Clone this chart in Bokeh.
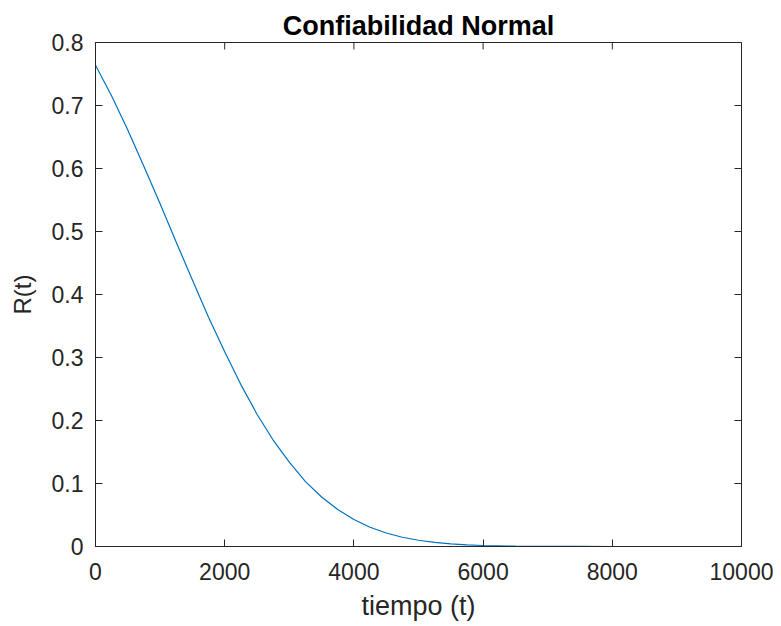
import math
from bokeh.plotting import figure
from bokeh.models import FixedTicker, CustomJSTickFormatter, Range1d
from bokeh.embed import file_html
from bokeh.resources import INLINE

# Data
t_vals = [0, 250, 500, 750, 1000, 1250, 1500, 1750, 2000, 2250, 2500, 2750,
          3000, 3250, 3500, 3750, 4000, 4250, 4500, 4750, 5000, 5250, 5500,
          5750, 6000, 6500, 7000, 7500, 8000, 8500, 9000, 9700]
r_vals = [0.764, 0.715, 0.661, 0.603, 0.544, 0.483, 0.423, 0.364, 0.309,
          0.257, 0.210, 0.169, 0.134, 0.103, 0.0786, 0.0586, 0.0428, 0.0306,
          0.0215, 0.0147, 0.0099, 0.0065, 0.0042, 0.0027, 0.0016, 0.0006,
          0.0002, 0.0001, 0.00002, 0.0, 0.0, 0.0]
x_ticks = [0, 2000, 4000, 6000, 8000, 10000]
y_ticks = [0, 0.1, 0.2, 0.3, 0.4, 0.5, 0.6, 0.7, 0.8]
x_lim = [0, 10000]
y_lim = [0, 0.8]

title_text = "Confiabilidad Normal"
x_label = "tiempo (t)"
y_label = "R(t)"

TXT = "#262626"
FONT = "Liberation Sans"

p = figure(width=773, height=624, output_backend="svg", toolbar_location=None,
           x_range=Range1d(*x_lim), y_range=Range1d(*y_lim),
           min_border_left=95, min_border_right=32, min_border_top=42,
           min_border_bottom=78)

p.title.text = title_text
p.title.align = "center"
p.title.text_font = FONT
p.title.text_font_size = "27px"
p.title.text_font_style = "bold"
p.title.text_color = "#000000"
p.title.standoff = 4

p.xgrid.visible = False
p.ygrid.visible = False
p.outline_line_color = TXT
p.outline_line_width = 1
p.background_fill_color = "white"
p.border_fill_color = "white"

p.line(t_vals, r_vals, line_color="#0072BD", line_width=1.2)

# inward ticks on the top and right edges of the box
p.ray(x=x_ticks, y=[y_lim[1]] * len(x_ticks), length=7, length_units="screen",
      angle=-math.pi / 2, line_color=TXT, line_width=1)
p.ray(x=[x_lim[1]] * len(y_ticks), y=y_ticks, length=7, length_units="screen",
      angle=math.pi, line_color=TXT, line_width=1)

yfmt = CustomJSTickFormatter(code="return String(Math.round(tick*10)/10);")

def style(ax):
    ax.major_tick_in = 7
    ax.major_tick_out = 0
    ax.minor_tick_in = 0
    ax.minor_tick_out = 0
    ax.axis_line_color = TXT
    ax.major_tick_line_color = TXT
    ax.major_label_text_font = FONT
    ax.major_label_text_color = TXT
    ax.major_label_text_font_size = "23px"
    ax.axis_label_text_font = FONT
    ax.axis_label_text_font_style = "normal"
    ax.axis_label_text_color = TXT

xa = p.xaxis[0]
xa.ticker = FixedTicker(ticks=x_ticks)
xa.axis_label = x_label
style(xa)
xa.axis_label_text_font_size = "27px"
xa.major_label_standoff = 16
xa.axis_label_standoff = 8

ya = p.yaxis[0]
ya.ticker = FixedTicker(ticks=y_ticks)
ya.formatter = yfmt
ya.axis_label = y_label
style(ya)
ya.axis_label_text_font_size = "24px"
ya.major_label_standoff = 12
ya.axis_label_standoff = 13

open("out.html", "w").write(file_html(p, INLINE))
